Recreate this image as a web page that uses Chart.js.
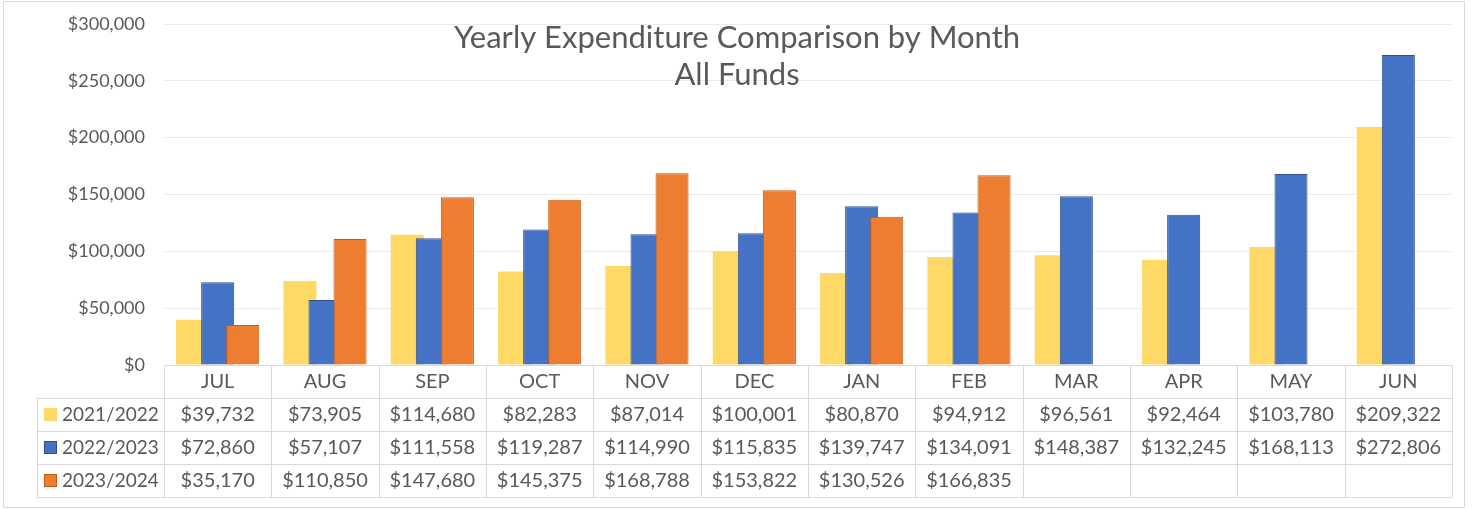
<!DOCTYPE html>
<html>
<head>
<meta charset="utf-8">
<script src="https://cdn.jsdelivr.net/npm/chart.js@4"></script>
<style>
  body { margin: 0; background: #fff; }
  canvas { display: block; }
</style>
</head>
<body>
<canvas id="expChart" width="1474" height="509"></canvas>
<script>
let months = ['JUL', 'AUG', 'SEP', 'OCT', 'NOV', 'DEC', 'JAN', 'FEB', 'MAR', 'APR', 'MAY', 'JUN'];
let fy2122 = [39732, 73905, 114680, 82283, 87014, 100001, 80870, 94912, 96561, 92464, 103780, 209322];
let fy2223 = [72860, 57107, 111558, 119287, 114990, 115835, 139747, 134091, 148387, 132245, 168113, 272806];
let fy2324 = [35170, 110850, 147680, 145375, 168788, 153822, 130526, 166835, null, null, null, null];
let seriesNames = ['2021/2022', '2022/2023', '2023/2024'];
let titleLines = ['Yearly Expenditure Comparison by Month', 'All Funds'];

const textColor = '#595959';
const lineColor = '#D9D9D9';
const fontFamily = 'Lato, "Open Sans", sans-serif';

function money(v) {
    return '$' + v.toLocaleString('en-US');
}

// chart.js paints the first dataset on top; flip that so later series overlap earlier ones
const drawOrderPlugin = {
    id: 'drawOrder',
    beforeDatasetsDraw(chart) {
        const area = chart.chartArea;
        const ctx = chart.ctx;
        chart.getSortedVisibleDatasetMetas().forEach(meta => {
            ctx.save();
            ctx.beginPath();
            ctx.rect(area.left, area.top - 2, area.width, area.height + 2);
            ctx.clip();
            meta.controller.draw();
            ctx.restore();
        });
        return false;
    }
};

// title + data table under the plot, drawn off the x scale
const tablePlugin = {
    id: 'dataTable',
    afterDraw(chart) {
        const ctx = chart.ctx;
        const x = chart.scales.x;
        const area = chart.chartArea;
        const colW = x.width / months.length;
        const rowH = 33;
        const legendLeft = area.left - 127;
        const top = area.bottom;

        ctx.save();
        // outer frame
        ctx.strokeStyle = lineColor;
        ctx.lineWidth = 1;
        ctx.strokeRect(3.5, 1.5, 1461, 506);

        // title
        ctx.fillStyle = textColor;
        ctx.textAlign = 'center';
        ctx.textBaseline = 'middle';
        ctx.font = '31px ' + fontFamily;
        ctx.fillText(titleLines[0], chart.width / 2, 38);
        ctx.fillText(titleLines[1], chart.width / 2, 75);

        // grid lines of the table
        ctx.beginPath();
        for (let r = 1; r <= 4; r++) {
            const yy = Math.round(top + r * rowH) + 0.5;
            ctx.moveTo(legendLeft, yy);
            ctx.lineTo(area.right, yy);
        }
        for (let c = 0; c <= months.length; c++) {
            const xx = Math.round(area.left + c * colW) + 0.5;
            ctx.moveTo(xx, top);
            ctx.lineTo(xx, top + 4 * rowH);
        }
        ctx.moveTo(legendLeft + 0.5, top + rowH);
        ctx.lineTo(legendLeft + 0.5, top + 4 * rowH);
        ctx.stroke();

        ctx.font = '20px ' + fontFamily;
        ctx.fillStyle = textColor;
        months.forEach((m, i) => {
            ctx.fillText(m, x.getPixelForValue(i), top + rowH / 2);
        });

        chart.data.datasets.forEach((ds, r) => {
            const cy = top + (r + 1.5) * rowH;
            // legend key
            ctx.fillStyle = ds.backgroundColor;
            ctx.fillRect(legendLeft + 7, cy - 6.5, 13, 13);
            if (ds.borderWidth) {
                ctx.strokeStyle = ds.borderColor;
                ctx.lineWidth = 1;
                ctx.strokeRect(legendLeft + 7.5, cy - 6, 12, 12);
            }
            ctx.fillStyle = textColor;
            ctx.textAlign = 'left';
            ctx.font = '19px ' + fontFamily;
            ctx.fillText(ds.label, legendLeft + 25, cy);
            ctx.textAlign = 'center';
            ctx.font = '20px ' + fontFamily;
            ds.data.forEach((v, i) => {
                if (v !== null) ctx.fillText(money(v), x.getPixelForValue(i), cy);
            });
        });
        ctx.restore();
    }
};

let ctxExp = document.getElementById('expChart').getContext('2d');
let expChart = new Chart(ctxExp, {
    type: 'bar',
    data: {
        labels: months,
        datasets: [{
            label: seriesNames[0],
            data: fy2122,
            backgroundColor: '#FFD966',
            borderWidth: 0
        }, {
            label: seriesNames[1],
            data: fy2223,
            backgroundColor: '#4472C4',
            borderColor: '#2F528F',
            borderWidth: 1
        }, {
            label: seriesNames[2],
            data: fy2324,
            backgroundColor: '#ED7D31',
            borderColor: '#C55A11',
            borderWidth: 1
        }]
    },
    options: {
        responsive: false,
        animation: false,
        categoryPercentage: 0.7,
        barPercentage: 1.32,
        layout: {
            padding: { top: 24, right: 22, bottom: 144, left: 0 }
        },
        plugins: {
            legend: { display: false },
            title: { display: false },
            tooltip: { enabled: false }
        },
        scales: {
            x: {
                ticks: { display: false },
                grid: { display: false, drawTicks: false },
                border: { display: true, color: lineColor }
            },
            y: {
                min: 0,
                max: 300000,
                afterFit(scale) {
                    scale.width = 164;
                    scale.paddingTop = 0;
                    scale.paddingBottom = 0;
                },
                ticks: {
                    stepSize: 50000,
                    padding: 19,
                    color: textColor,
                    font: { family: fontFamily, size: 18 },
                    callback: v => money(v)
                },
                grid: { color: '#EBEBEB', drawTicks: false },
                border: { display: false }
            }
        }
    },
    plugins: [drawOrderPlugin, tablePlugin]
});
</script>
</body>
</html>
